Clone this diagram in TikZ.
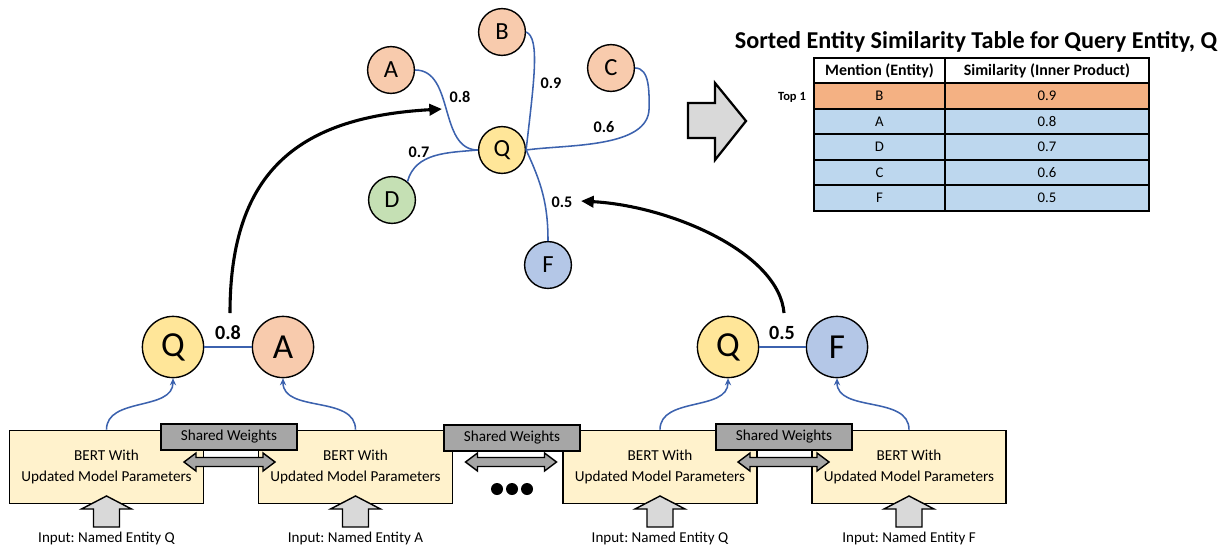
\documentclass[tikz,border=0pt]{standalone}
\usepackage{fontspec}
\setmainfont{Carlito}
\frenchspacing
\usetikzlibrary{arrows.meta}
\definecolor{qfill}{HTML}{FFE699}
\definecolor{orangefill}{HTML}{F8CBAD}
\definecolor{greenfill}{HTML}{C5E0B4}
\definecolor{bluefill}{HTML}{B4C7E7}
\definecolor{bertfill}{HTML}{FFF2CC}
\definecolor{swfill}{HTML}{A6A6A6}
\definecolor{arrowfill}{HTML}{D9D9D9}
\definecolor{edgeblue}{HTML}{3C62AE}
\definecolor{topfill}{HTML}{F4B183}
\definecolor{rowfill}{HTML}{BDD7EE}
\tikzset{small node/.style={circle,draw,line width=1pt,minimum size=1.17cm,inner sep=0pt,font=\fontsize{17.5}{17.5}\selectfont},
            big node/.style={circle,draw,line width=1pt,minimum size=1.53cm,inner sep=0pt,font=\fontsize{25}{25}\selectfont},
            edge/.style={edgeblue,line width=1.1pt},
            weight/.style={inner sep=1pt,font=\fontsize{11.5}{11.5}\selectfont\bfseries},
            big weight/.style={inner sep=1pt,font=\fontsize{14.3}{14.3}\selectfont\bfseries},
            big arrow/.style={line width=2.2pt,-{Triangle[length=9pt,width=8pt]}},
            up arrow/.style={edgeblue,line width=1.1pt,-{Stealth[length=5pt,width=4.5pt]}},
            bert box/.style={draw,fill=bertfill,line width=1pt,minimum width=4.85cm,minimum height=1.83cm,align=center,inner sep=0pt,font=\fontsize{10.8}{14.5}\selectfont},
            sw box/.style={draw,fill=swfill,line width=1pt,minimum width=3.4cm,minimum height=0.65cm,inner sep=0pt,font=\fontsize{10.8}{10.8}\selectfont},
            block arrow/.style={draw,fill=arrowfill,line width=1pt,line join=miter},
            input label/.style={inner sep=0pt,font=\fontsize{10.7}{10.7}\selectfont},
            cell/.style={draw,line width=1.2pt,minimum height=0.6375cm,inner sep=0pt,font=\fontsize{10.5}{10.5}\selectfont},
            }
\begin{document}
\begin{tikzpicture}[x=0.025cm,y=0.025cm]
\useasboundingbox (0,0) rectangle (1227,-545);

% similarity graph around the query entity
\node[small node,fill=qfill] (Q) at (502,-150) {Q};
\node[small node,fill=orangefill] (A) at (391,-70) {A};
\node[small node,fill=orangefill] (B) at (502,-32) {B};
\node[small node,fill=orangefill] (C) at (611,-68) {C};
\node[small node,fill=greenfill] (D) at (392,-200) {D};
\node[small node,fill=bluefill] (F) at (548,-265) {F};

\draw[edge] (A.east) to[out=0,in=180] (Q.west);
\draw[edge] (B.east) .. controls +(14,-6) and +(8,70) .. (Q.east);
\draw[edge] (C.east) to[out=0,in=90,looseness=0.9] ++(14,-40) to[out=-90,in=8,looseness=0.8] (Q.east);
\draw[edge] (D.50) to[out=75,in=185] (Q.west);
\draw[edge] (F.north) to[out=90,in=-65] (Q.east);

\node[weight] (wA) at (460,-97) {0.8};
\node[weight] (wB) at (551,-83) {0.9};
\node[weight] (wC) at (604,-127) {0.6};
\node[weight] (wD) at (419,-152) {0.7};
\node[weight] (wF) at (562,-202) {0.5};

% pairs scored by the encoders
\node[big node,fill=qfill] (q1) at (173,-347) {Q};
\node[big node,fill=orangefill] (a1) at (283,-347) {A};
\node[big node,fill=qfill] (q2) at (728,-347) {Q};
\node[big node,fill=bluefill] (f2) at (837,-347) {F};
\draw[edge] (q1) -- (a1);
\draw[edge] (q2) -- (f2);
\node[big weight] (w1) at (228,-333) {0.8};
\node[big weight] (w2) at (782,-333) {0.5};

\coordinate (s1) at (230,-313);
\coordinate (e1) at (442,-109);
\coordinate (s2) at (784,-313);
\coordinate (e2) at (581,-201);
\draw[big arrow] (s1) .. controls +(0,145) and +(-140,-8) .. (e1);
\draw[big arrow] (s2) .. controls +(-5,60) and +(90,-5) .. (e2);

% encoders
\node[bert box] (bert1) at (106.5,-467) {BERT With\\Updated Model Parameters};
\node[bert box] (bert2) at (355.5,-467) {BERT With\\Updated Model Parameters};
\node[bert box] (bert3) at (660,-467) {BERT With\\Updated Model Parameters};
\node[bert box] (bert4) at (909,-467) {BERT With\\Updated Model Parameters};

\draw[up arrow] (bert1.north) to[out=90,in=-90] (q1.south);
\draw[up arrow] (bert2.north) to[out=90,in=-90] (a1.south);
\draw[up arrow] (bert3.north) to[out=90,in=-90] (q2.south);
\draw[up arrow] (bert4.north) to[out=90,in=-90] (f2.south);

\node[sw box] (sw1) at (229,-437) {Shared Weights};
\node[sw box] (sw2) at (512,-438) {Shared Weights};
\node[sw box] (sw3) at (784,-437) {Shared Weights};

\foreach \c in {229.5,511,783.5}
  \draw[block arrow,fill=swfill] (\c-45.5,-462) -- ++(12,9) -- ++(0,-4.5) -- ++(67,0) -- ++(0,4.5)
    -- ++(12,-9) -- ++(-12,-9) -- ++(0,4.5) -- ++(-67,0) -- ++(0,-4.5) -- cycle;

\foreach \x in {497,512,527}
  \fill (\x,-489) circle (6);

\foreach \c/\t [count=\i] in {106.5/Q,355.5/A,660/Q,909/F} {
  \draw[block arrow] (\c,-496) -- ++(25,-13) -- ++(-12,0) -- ++(0,-18) -- ++(-26,0) -- ++(0,18) -- ++(-12,0) -- cycle;
  \node[input label] (in\i) at (\c,-538) {Input: Named Entity \t};
}

% sorted table
\draw[block arrow,line width=1.6pt] (688,-103) -- (715,-103) -- (715,-83) -- (746,-121)
  -- (715,-160) -- (715,-138) -- (688,-138) -- cycle;

\node[font=\fontsize{17.2}{17.2}\selectfont\bfseries,inner sep=0pt] (title) at (976,-42) {Sorted Entity Similarity Table for Query Entity, Q};
\node[cell,fill=white,minimum width=3.275cm,font=\fontsize{11.3}{11.3}\selectfont\bfseries] (h1) at (879.5,-71) {Mention (Entity)};
\node[cell,fill=white,minimum width=5.11cm,font=\fontsize{11.3}{11.3}\selectfont\bfseries] (h2) at (1047,-71) {Similarity (Inner Product)};
\foreach \n/\v/\f [count=\i] in {B/0.9/topfill,A/0.8/rowfill,D/0.7/rowfill,C/0.6/rowfill,F/0.5/rowfill} {
  \node[cell,fill=\f,minimum width=3.275cm] (m\i) at (879.5,-96-25.5*\i+25.5) {\n};
  \node[cell,fill=\f,minimum width=5.11cm] (v\i) at (1047,-96-25.5*\i+25.5) {\v};
}
\node[font=\fontsize{8.9}{8.9}\selectfont\bfseries,inner sep=0pt] (top) at (792,-97) {Top 1};
\end{tikzpicture}
\end{document}
